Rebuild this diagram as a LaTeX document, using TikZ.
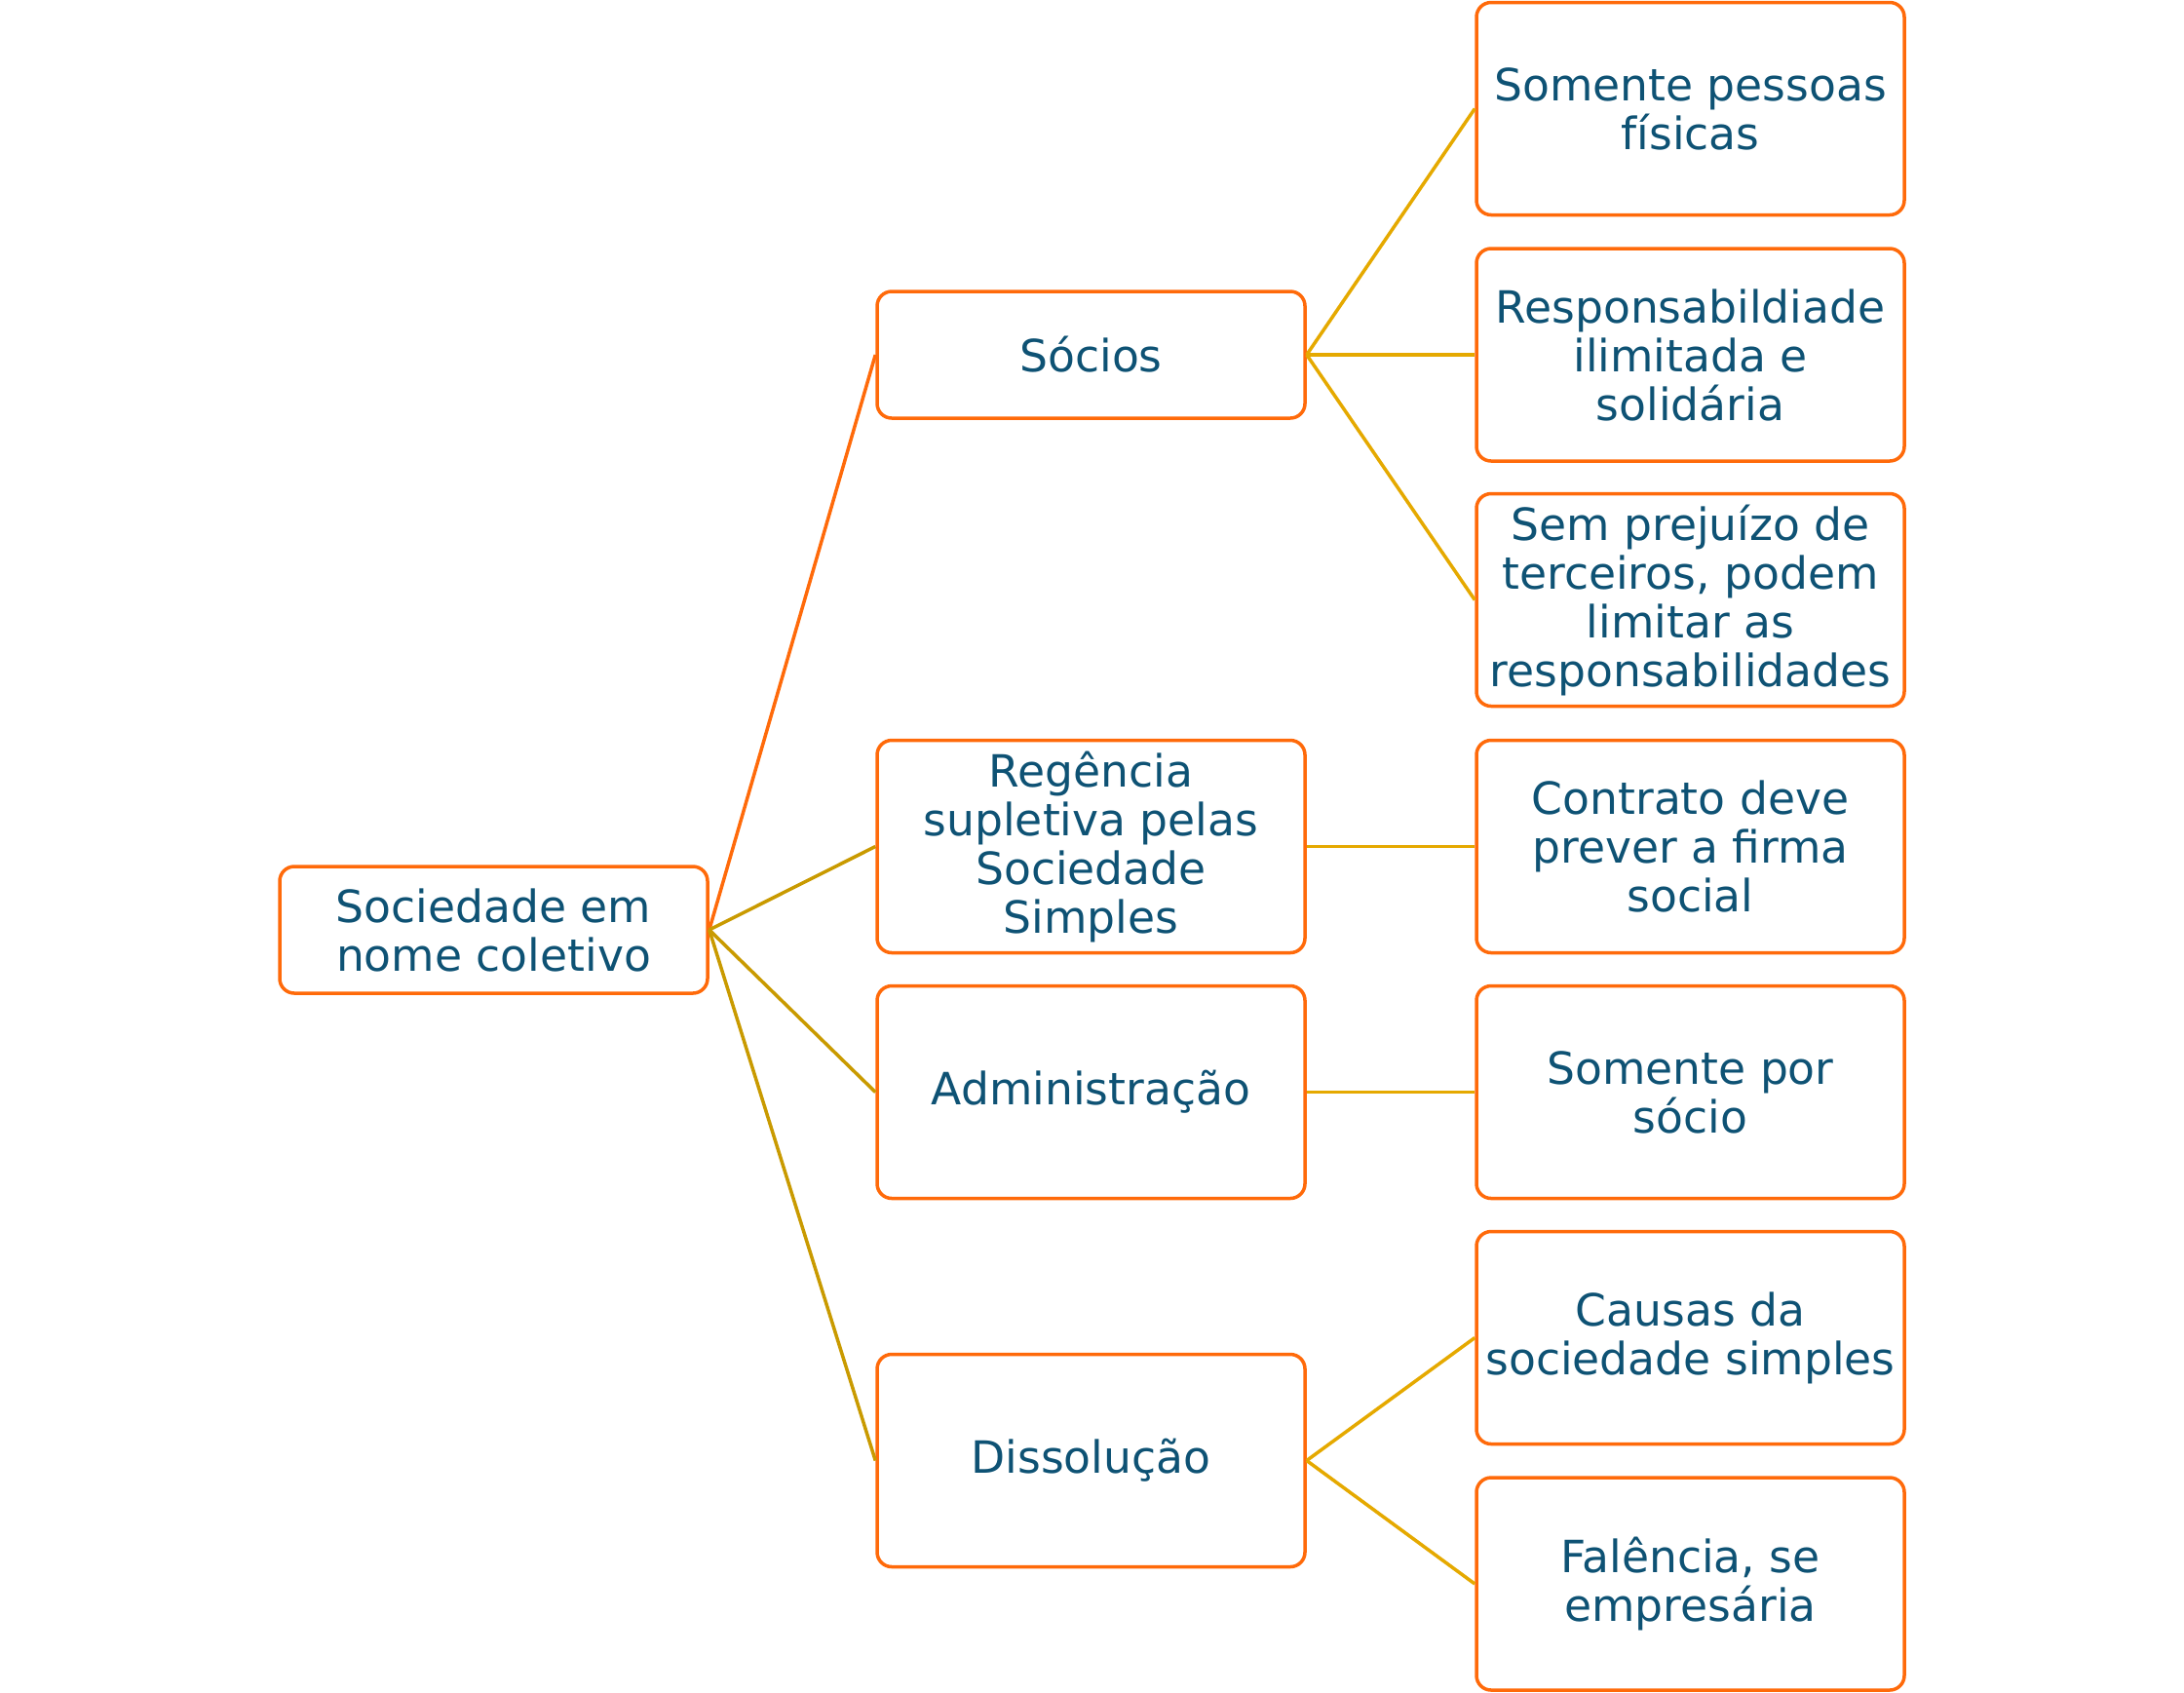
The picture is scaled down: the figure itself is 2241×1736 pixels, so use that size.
\documentclass[tikz,border=0pt]{standalone}
\usepackage{fontspec}
\setmainfont{DejaVu Sans}
\definecolor{txt}{HTML}{0E5274}
\definecolor{boxc}{HTML}{FF6A0A}
\definecolor{goldA}{HTML}{C99A00}
\definecolor{goldB}{HTML}{E5A900}
\begin{document}
\begin{tikzpicture}[x=0.5pt,y=-0.5pt,
  box/.style={draw=boxc,line width=1.75pt,rounded corners=7.5pt,fill=white,
    minimum width=219.5pt,align=center,text=txt,inner sep=0pt,
    font=\fontsize{22.8}{25}\selectfont},
  small/.style={box,minimum height=65pt},
  big/.style={box,minimum height=109pt},
  linkA/.style={draw=goldA,line width=1.75pt},
  linkB/.style={draw=goldB,line width=1.75pt},
  linkO/.style={draw=boxc,line width=1.75pt}]
\useasboundingbox (0,0) rectangle (2241,1736);
\node[small] (root) at (506.5,954) {Sociedade em\\nome coletivo};
\node[small] (socios) at (1119.5,364) {Sócios};
\node[big] (reg) at (1119.5,868.5) {Regência\\supletiva pelas\\Sociedade\\Simples};
\node[big] (adm) at (1119.5,1120.5) {Administração};
\node[big] (dis) at (1119.5,1498.5) {Dissolução};
\node[big] (r1) at (1734.5,111.5) {Somente pessoas\\físicas};
\node[big] (r2) at (1734.5,364) {Responsabildiade\\ilimitada e\\solidária};
\node[big] (r3) at (1734.5,615.5) {Sem prejuízo de\\terceiros, podem\\limitar as\\responsabilidades};
\node[big] (r4) at (1734.5,868.5) {Contrato deve\\prever a firma\\social};
\node[big] (r5) at (1734.5,1120.5) {Somente por\\sócio};
\node[big] (r6) at (1734.5,1372.5) {Causas da\\sociedade simples};
\node[big] (r7) at (1734.5,1625) {Falência, se\\empresária};
\draw[linkO] (root.east) -- (socios.west);
\draw[linkA] (root.east) -- (reg.west);
\draw[linkA] (root.east) -- (adm.west);
\draw[linkA] (root.east) -- (dis.west);
\draw[linkB] (socios.east) -- (r1.west);
\draw[linkB] (socios.east) -- (r2.west);
\draw[linkB] (socios.east) -- (r3.west);
\draw[linkB] (reg.east) -- (r4.west);
\draw[linkB] (adm.east) -- (r5.west);
\draw[linkB] (dis.east) -- (r6.west);
\draw[linkB] (dis.east) -- (r7.west);
\end{tikzpicture}
\end{document}
